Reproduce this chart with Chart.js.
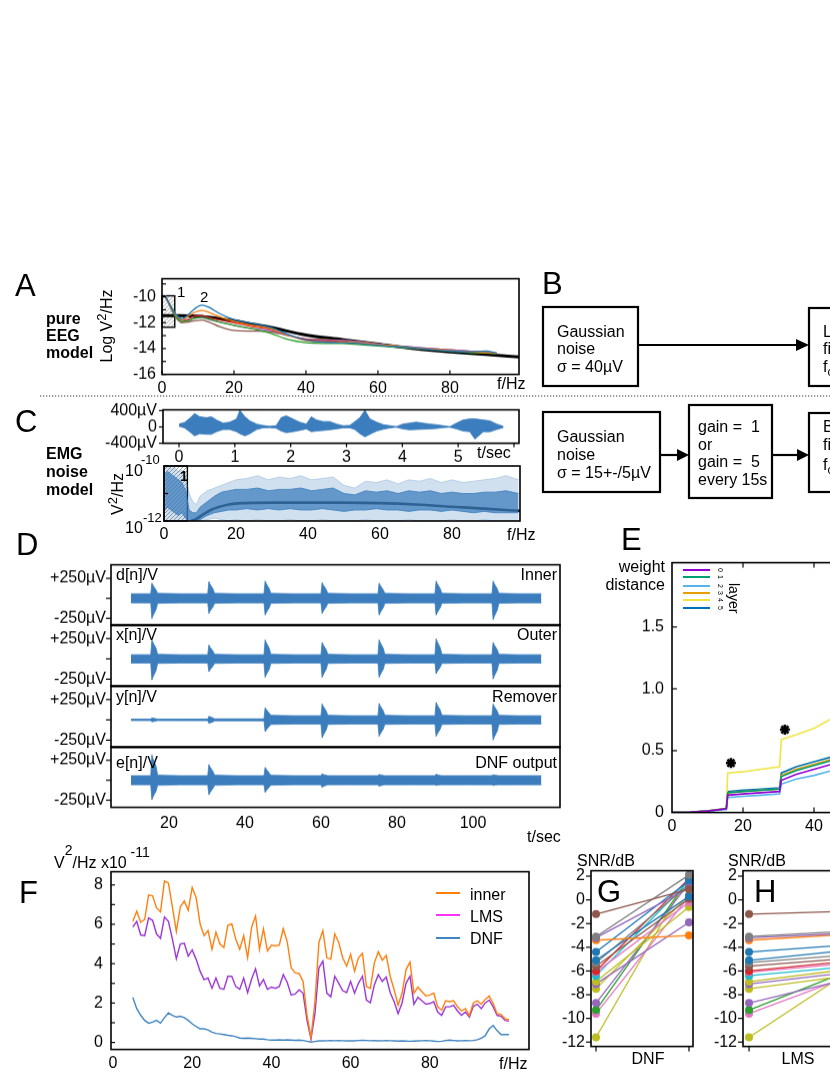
<!DOCTYPE html>
<html>
<head>
<meta charset="utf-8">
<script src="https://cdn.jsdelivr.net/npm/chart.js@4.4.1/dist/chart.umd.min.js"></script>
<style>
html, body { margin: 0; padding: 0; background: #fff; overflow: hidden; }
body { width: 830px; height: 1075px; position: relative; }
.wrap { position: absolute; left: 0; top: 0; }
#deco { position: absolute; left: 0; top: 0; pointer-events: none; }
</style>
</head>
<body>
<svg id="deco" width="830" height="1075" font-family="Liberation Sans, Arial, sans-serif" font-size="16">
  <g font-size="31">
    <text x="15" y="296">A</text>
    <text x="542" y="294">B</text>
    <text x="15" y="432">C</text>
    <text x="16" y="555">D</text>
    <text x="621" y="550">E</text>
    <text x="19" y="903">F</text>
    <text x="597" y="902">G</text>
    <text x="754" y="902">H</text>
  </g>
  <g font-weight="bold">
    <text x="46" y="324">pure</text>
    <text x="46" y="341">EEG</text>
    <text x="46" y="358">model</text>
    <text x="46" y="459">EMG</text>
    <text x="46" y="477">noise</text>
    <text x="46" y="495">model</text>
  </g>

  <!-- A -->
  <text transform="translate(112,326) rotate(-90)" text-anchor="middle">Log V<tspan dy="-6" font-size="13">2</tspan><tspan dy="6">/Hz</tspan></text>
  <text x="177" y="297" font-size="15">1</text>
  <text x="200" y="302" font-size="15">2</text>
  <text x="497" y="389">f/Hz</text>
  <line x1="40" y1="396" x2="830" y2="396" stroke="#333" stroke-width="1" stroke-dasharray="1.2 1.8"/>

  <!-- B -->
  <g fill="none" stroke="#000" stroke-width="2.2">
    <rect x="543" y="307" width="95" height="79"/>
    <rect x="809" y="308" width="40" height="78"/>
    <rect x="543" y="412" width="117" height="80"/>
    <rect x="689" y="405" width="83" height="93"/>
    <rect x="809" y="413" width="40" height="79"/>
    <line x1="638" y1="345" x2="798" y2="345"/>
    <line x1="660" y1="455" x2="679" y2="455"/>
    <line x1="772" y1="455" x2="799" y2="455"/>
  </g>
  <g fill="#000">
    <polygon points="796,339 809,345 796,351"/>
    <polygon points="677,449 689,455 677,461"/>
    <polygon points="797,449 809,455 797,461"/>
  </g>
  <text x="557" y="337">Gaussian</text>
  <text x="557" y="354">noise</text>
  <text x="557" y="372">σ = 40µV</text>
  <text x="823" y="337">L</text>
  <text x="823" y="354">fi</text>
  <text x="823" y="372">f<tspan dy="4" font-size="12">c</tspan></text>
  <text x="557" y="442">Gaussian</text>
  <text x="557" y="460">noise</text>
  <text x="557" y="478">σ = 15+-/5µV</text>
  <text x="698" y="432" xml:space="preserve">gain =  1</text>
  <text x="698" y="449.5">or</text>
  <text x="698" y="467" xml:space="preserve">gain =  5</text>
  <text x="698" y="484.5">every 15s</text>
  <text x="823" y="432">B</text>
  <text x="823" y="450">fi</text>
  <text x="823" y="470">f<tspan dy="4" font-size="12">c</tspan></text>

  <!-- C -->
  <text x="477" y="458">t/sec</text>
  <text x="125" y="476">10</text>
  <text x="141" y="464" font-size="13">-10</text>
  <text x="125" y="533">10</text>
  <text x="143" y="522" font-size="13">-12</text>
  <text transform="translate(123,494) rotate(-90)" text-anchor="middle">V<tspan dy="-6" font-size="13">2</tspan><tspan dy="6">/Hz</tspan></text>
  <text x="180" y="481" font-size="14" font-weight="bold">1</text>
  <text x="507" y="540">f/Hz</text>

  <!-- D -->
  <text x="116" y="580">d[n]/V</text>
  <text x="557" y="580" text-anchor="end">Inner</text>
  <text x="116" y="640">x[n]/V</text>
  <text x="557" y="640" text-anchor="end">Outer</text>
  <text x="116" y="702">y[n]/V</text>
  <text x="557" y="702" text-anchor="end">Remover</text>
  <text x="116" y="768">e[n]/V</text>
  <text x="557" y="768" text-anchor="end">DNF output</text>
  <text x="527" y="842">t/sec</text>

  <!-- E -->
  <text x="665" y="572" text-anchor="end">weight</text>
  <text x="665" y="590" text-anchor="end">distance</text>
  <g stroke-width="2">
    <line x1="683" y1="570" x2="710" y2="570" stroke="#9400d3"/>
    <line x1="683" y1="577" x2="710" y2="577" stroke="#009e73"/>
    <line x1="683" y1="586" x2="710" y2="586" stroke="#56b4e9"/>
    <line x1="683" y1="593" x2="710" y2="593" stroke="#e69f00"/>
    <line x1="683" y1="600" x2="710" y2="600" stroke="#f0e442"/>
    <line x1="683" y1="608" x2="710" y2="608" stroke="#0072b2"/>
  </g>
  <g font-size="7">
    <text transform="translate(718,568) rotate(90)">0</text>
    <text transform="translate(718,575) rotate(90)">1</text>
    <text transform="translate(718,584) rotate(90)">2</text>
    <text transform="translate(718,591) rotate(90)">3</text>
    <text transform="translate(718,598) rotate(90)">4</text>
    <text transform="translate(718,606) rotate(90)">5</text>
  </g>
  <text transform="translate(729,583) rotate(90)" font-size="14">layer</text>

  <!-- F -->
  <text x="54" y="868">V<tspan dy="-13" font-size="14">2</tspan><tspan dy="13">/Hz x10</tspan><tspan dy="-11" font-size="14"> -11</tspan></text>
  <g stroke-width="2">
    <line x1="436" y1="893" x2="460" y2="893" stroke="#ff7f0e"/>
    <line x1="436" y1="915" x2="460" y2="915" stroke="#ff33ff"/>
    <line x1="436" y1="938" x2="460" y2="938" stroke="#3f84c0"/>
  </g>
  <text x="470" y="900">inner</text>
  <text x="470" y="922">LMS</text>
  <text x="470" y="944">DNF</text>
  <text x="499" y="1069">f/Hz</text>

  <!-- G, H -->
  <text x="577" y="866">SNR/dB</text>
  <text x="728" y="866">SNR/dB</text>
  <text x="648" y="1064" text-anchor="middle">DNF</text>
  <text x="798" y="1064" text-anchor="middle">LMS</text>
</svg>

<script>
// ---------- A: pure EEG model ----------
const freqA = [1, 2, 3, 4, 5.5, 7, 9, 11, 13, 16, 20, 25, 30, 35, 40, 45, 50, 55, 60, 65, 70, 75, 80, 85, 90, 93];
const eegBlue   = [-10.0,-10.5,-11.0,-11.4,-11.7,-11.45,-10.95,-10.65,-10.8,-11.3,-11.75,-12.05,-12.35,-12.9,-13.35,-13.5,-13.55,-13.6,-13.75,-13.85,-13.95,-14.1,-14.2,-14.25,-14.2,-14.35];
const eegOrange = [-10.0,-10.5,-11.0,-11.45,-11.75,-11.55,-11.2,-11.05,-11.2,-11.55,-11.9,-12.2,-12.45,-12.95,-13.4,-13.5,-13.5,-13.55,-13.7,-13.8,-13.95,-14.05,-14.15,-14.25,-14.3,-14.35];
const eegRed    = [-10.05,-10.55,-11.1,-11.5,-11.85,-11.75,-11.5,-11.45,-11.6,-11.8,-12.0,-12.3,-12.5,-12.95,-13.3,-13.4,-13.45,-13.6,-13.75,-13.85,-13.95,-14.05,-14.15,-14.25,-14.3,-14.4];
const eegPurple = [-9.9,-10.5,-11.1,-11.55,-11.9,-11.85,-11.65,-11.6,-11.75,-11.95,-12.2,-12.45,-12.6,-12.95,-13.3,-13.35,-13.35,-13.5,-13.65,-13.8,-13.9,-14.0,-14.1,-14.2,-14.3,-14.35];
const eegBrown  = [-10.0,-10.6,-11.2,-11.65,-12.0,-11.95,-11.85,-11.8,-11.95,-12.3,-12.6,-12.65,-12.7,-13.0,-13.25,-13.3,-13.35,-13.45,-13.65,-13.8,-13.9,-14.0,-14.1,-14.2,-14.3,-14.4];
const eegGreen  = [-10.0,-10.55,-11.1,-11.55,-11.9,-11.85,-11.65,-11.6,-11.7,-11.95,-12.2,-12.45,-12.8,-13.3,-13.55,-13.6,-13.6,-13.7,-13.8,-13.9,-14.0,-14.1,-14.2,-14.3,-14.35,-14.4];
const modelFreqA = [0, 5, 10, 15, 20, 25, 30, 40, 50, 60, 70, 80, 90, 99.2];
const modelA     = [-11.45,-11.45,-11.5,-11.65,-11.85,-12.1,-12.35,-12.95,-13.3,-13.65,-14.0,-14.25,-14.45,-14.65];

// ---------- C: EMG noise, time trace (envelope, uV) ----------
const emgTime = [0,0.1,0.19,0.28,0.37,0.49,0.58,0.67,0.79,0.91,1.03,1.09,1.18,1.27,1.39,1.5,1.62,1.74,1.83,1.92,2.04,2.16,2.28,2.37,2.46,2.58,2.7,2.82,2.94,3.06,3.15,3.24,3.33,3.42,3.54,3.66,3.78,3.89,4.01,4.13,4.25,4.37,4.49,4.61,4.73,4.85,4.97,5.09,5.21,5.3,5.45,5.57,5.69,5.81];
const emgHi = [71,110,212,329,251,227,251,172,94,118,196,408,251,149,71,39,16,31,227,274,196,118,71,251,172,133,133,71,31,39,133,227,408,196,118,55,31,8,71,94,118,94,71,55,31,8,94,172,196,196,172,149,71,16];
const emgLo = [16,-24,-118,-220,-165,-180,-180,-118,-63,-63,-118,-165,-220,-165,-63,-24,-16,-31,-102,-141,-118,-86,-47,-118,-102,-86,-71,-47,-24,-24,-63,-165,-243,-180,-102,-55,-24,-8,-47,-71,-63,-55,-47,-39,-16,-8,-47,-102,-118,-298,-118,-118,-63,-16];

// ---------- C: EMG spectrum (log10 V^2/Hz) ----------
const emgFreq = [0.3,1,2,3,4,5,6,7,8,9,10,12,14,16,18,20,23,26,29,32,35,38,41,44,47,50,53,56,59,62,65,68,71,74,77,80,83,86,89,92,95,98.5];
const specOuterHi = [-10.0,-10.0,-10.1,-10.05,-10.2,-10.15,-10.4,-11.0,-11.3,-11.4,-11.1,-10.9,-10.8,-10.7,-10.6,-10.5,-10.45,-10.35,-10.5,-10.4,-10.45,-10.35,-10.5,-10.45,-10.4,-10.7,-10.8,-10.55,-10.6,-10.5,-10.65,-10.5,-10.55,-10.45,-10.6,-10.5,-10.6,-10.55,-10.5,-10.45,-10.35,-10.5];
const specOuterLo = [-12,-12,-12,-12,-12,-12,-12,-12,-12,-12,-12,-11.95,-11.9,-11.95,-12,-11.95,-12,-11.95,-12,-12,-11.95,-12,-12,-11.95,-12,-12,-12,-11.95,-12,-12,-12,-11.95,-12,-12,-12,-11.95,-12,-12,-11.95,-12,-12,-12];
const specCoreHi = [-10.3,-10.2,-10.3,-10.4,-10.5,-10.6,-10.9,-11.6,-11.7,-11.7,-11.5,-11.3,-11.1,-10.95,-10.9,-10.85,-10.85,-10.8,-10.9,-10.85,-10.85,-10.8,-10.9,-10.85,-10.8,-11.0,-11.05,-10.9,-10.95,-10.9,-11.0,-10.9,-10.95,-10.9,-11.0,-10.95,-11.0,-11.0,-10.95,-10.95,-10.9,-11.0];
const specCoreLo = [-11.6,-11.5,-11.6,-11.7,-11.8,-11.7,-11.9,-12,-12,-12,-11.95,-11.8,-11.7,-11.65,-11.6,-11.6,-11.55,-11.6,-11.55,-11.6,-11.55,-11.6,-11.6,-11.55,-11.6,-11.65,-11.6,-11.6,-11.55,-11.6,-11.6,-11.65,-11.6,-11.6,-11.65,-11.6,-11.65,-11.7,-11.65,-11.7,-11.7,-11.7];
const emgModelFreq = [7.5,9,11,13,15,18,22,30,40,50,60,70,80,90,98.9];
const emgModel = [-12,-11.92,-11.75,-11.6,-11.5,-11.4,-11.35,-11.33,-11.33,-11.33,-11.35,-11.4,-11.48,-11.56,-11.63];

// ---------- D: signals (envelope, uV) ----------
const dTime = [10,
  13,15.2,15.5,15.8,16.2,16.6,17.0,
  23,30.2,30.5,30.8,31.2,31.6,32.0,
  38,45.0,45.3,45.6,46.0,46.4,46.8,
  53,60.0,60.3,60.6,61.0,61.4,61.8,
  68,75.0,75.3,75.6,76.0,76.4,76.8,
  83,90.0,90.3,90.6,91.0,91.4,91.8,
  98,105.0,105.3,105.6,106.0,106.4,106.8,
  112,118];
const innerHi = [57, 57,57,190,162,133,105,62, 57,57,210,179,147,116,62, 57,57,216,184,151,119,62, 57,57,197,167,138,108,62, 57,57,190,162,133,105,62, 57,57,216,184,151,119,62, 57,57,216,184,151,119,62, 57,57];
const innerLo = [-57, -57,-57,-254,-216,-178,-140,-62, -57,-57,-190,-162,-133,-105,-62, -57,-57,-210,-179,-147,-116,-62, -57,-57,-190,-162,-133,-105,-62, -57,-57,-210,-179,-147,-116,-62, -57,-57,-210,-179,-147,-116,-62, -57,-57,-267,-227,-187,-147,-62, -57,-57];
const outerHi = [51, 51,51,235,200,165,129,56, 51,51,171,145,120,94,56, 51,51,235,200,165,129,56, 51,51,203,173,142,112,56, 51,51,235,200,165,129,56, 51,51,248,211,174,136,56, 51,51,203,173,142,112,56, 51,51];
const outerLo = [-51, -51,-51,-260,-221,-182,-143,-56, -51,-51,-159,-135,-111,-87,-56, -51,-51,-229,-195,-160,-126,-56, -51,-51,-229,-195,-160,-126,-56, -51,-51,-229,-195,-160,-126,-56, -51,-51,-184,-156,-129,-101,-56, -51,-51,-248,-211,-174,-136,-56, -51,-51];
const removerHi = [9, 9,9,25,21,18,14,9, 10,10,44,37,31,24,13, 13,13,150,128,105,83,56, 51,51,197,167,138,108,56, 51,51,203,173,142,112,56, 51,51,216,184,151,119,56, 51,51,197,167,138,108,56, 51,51];
const removerLo = [-9, -9,-9,-25,-21,-18,-14,-9, -10,-10,-44,-37,-31,-24,-13, -13,-13,-146,-124,-102,-80,-56, -51,-51,-222,-189,-155,-122,-56, -51,-51,-203,-173,-142,-112,-56, -51,-51,-203,-173,-142,-112,-56, -51,-51,-248,-211,-174,-136,-56, -51,-51];
const dnfHi = [57, 57,57,318,270,223,175,64, 57,57,196,167,137,108,64, 57,57,163,139,114,90,62, 57,57,81,72,66,62,57, 57,57,74,68,64,60,57, 57,57,76,69,64,60,57, 57,57,69,65,62,59,57, 57,57];
const dnfLo = [-57, -57,-57,-245,-208,-172,-135,-64, -57,-57,-182,-155,-127,-100,-64, -57,-57,-154,-131,-108,-85,-62, -57,-57,-90,-79,-70,-64,-57, -57,-57,-77,-70,-65,-61,-57, -57,-57,-66,-62,-60,-58,-57, -57,-57,-66,-62,-60,-58,-57, -57,-57];

// ---------- E: weight distance per layer ----------
const eTime = [0, 5, 10, 15.3, 15.7, 20, 25, 30.3, 30.8, 35, 40, 45];
const layer0 = [0,0.003,0.012,0.03,0.14,0.15,0.16,0.17,0.26,0.31,0.35,0.39];
const layer1 = [0,0.003,0.012,0.03,0.16,0.17,0.18,0.19,0.29,0.34,0.38,0.42];
const layer2 = [0,0.002,0.01,0.025,0.12,0.13,0.14,0.15,0.23,0.27,0.30,0.34];
const layer3 = [0,0.003,0.012,0.03,0.16,0.17,0.18,0.19,0.30,0.35,0.39,0.43];
const layer4 = [0,0.004,0.015,0.035,0.32,0.33,0.35,0.37,0.59,0.63,0.68,0.76];
const layer5 = [0,0.003,0.012,0.03,0.17,0.18,0.19,0.20,0.32,0.37,0.41,0.45];
const starTime = [16.6, 31.8];
const starVal = [0.40, 0.67];

// ---------- F: power spectra (x1e-11 V^2/Hz) ----------
const fFreq = [5,6,7,8,9,10,11,12,13,14,15,16,17,18,19,20,21,22,23,24,25,26,27,28,29,30,31,32,33,34,35,36,37,38,39,40,41,42,43,44,45,46,47,48,49,50,51,52,53,54,55,56,57,58,59,60,61,62,63,64,65,66,67,68,69,70,71,72,73,74,75,76,77,78,79,80,81,82,83,84,85,86,87,88,89,90,91,92,93,94,95,96,97,98,99,100];
const psdInner = [6.15,6.66,6.1,6.25,7.49,7.45,6.83,6.63,8.2,8.09, 6.88,5.63,6.88,7.18,6.71,7.87,7.35,6.02,5.42,5.68, 4.73,5.6,5.0,4.82,5.94,6.02,5.25,4.73,5.42,4.3, 5.85,6.42,4.73,5.77,4.65,4.94,4.9,4.94,5.77,5.11, 3.79,3.53,3.5,3.1,1.38,0.26,2.07,5.08,5.68,4.3, 4.22,5.51,5.08,4.3,3.87,4.48,3.62,4.3,4.53,2.84, 2.75,4.04,4.6,4.18,4.42,3.36,2.67,1.89,2.5,3.7, 4.08,2.5,2.81,2.58,2.36,2.41,2.5,1.81,1.64,2.12, 2.07,2.12,1.81,1.6,1.72,1.38,2.01,2.12,1.94,2.19, 2.36,1.98,1.46,1.43,1.2,1.15];
const psdLms = [5.86,6.15,5.46,5.42,6.32,6.2,5.51,5.29,6.37,6.15, 5.25,4.25,5.0,5.04,4.39,4.7,4.22,3.62,3.19,3.27, 2.75,3.27,2.75,2.7,3.36,3.36,2.84,2.7,3.27,2.53, 3.22,3.74,2.88,3.19,2.7,2.81,2.75,2.84,3.44,3.05, 2.41,2.46,2.67,2.5,1.12,0.17,1.46,3.79,4.13,2.5, 2.32,3.36,3.01,2.63,2.53,3.1,2.5,3.01,3.36,2.15, 2.01,2.93,3.44,3.1,3.32,2.53,2.07,1.46,2.01,3.01, 3.36,1.94,2.29,2.12,1.94,1.98,2.07,1.55,1.38,1.81, 1.81,1.89,1.6,1.38,1.55,1.29,1.84,1.94,1.72,2.01, 2.15,1.81,1.38,1.33,1.12,1.08];
const psdDnf = [2.29,1.72,1.38,1.12,0.98,1.03,1.12,0.98,1.26,1.5, 1.38,1.29,1.33,1.26,1.12,0.95,0.81,0.69,0.69,0.64, 0.52,0.46,0.43,0.4,0.36,0.34,0.29,0.22,0.21,0.22, 0.21,0.19,0.17,0.17,0.14,0.12,0.12,0.13,0.12,0.13, 0.12,0.11,0.12,0.1,0.06,0.02,0.05,0.08,0.08,0.09, 0.1,0.09,0.1,0.09,0.08,0.09,0.08,0.1,0.11,0.1, 0.09,0.1,0.08,0.09,0.1,0.09,0.08,0.07,0.08,0.07, 0.06,0.07,0.08,0.09,0.1,0.09,0.07,0.05,0.06,0.1, 0.12,0.1,0.08,0.09,0.1,0.09,0.1,0.14,0.22,0.34, 0.69,0.86,0.6,0.4,0.4,0.4];

// ---------- G, H: SNR per subject ----------
const snrPre = [-1.2,-3.1,-3.2,-3.4,-4.4,-5.1,-5.3,-5.6,-6.0,-6.1,-6.4,-6.9,-7.1,-7.5,-8.7,-9.3,-9.6,-11.6];
const snrDnf = [0.9,2.1,1.0,-3.0,1.6,0.3,1.3,0.1,1.8,-0.2,1.6,-0.6,-1.9,0.4,1.4,1.8,0.3,2.0];
const snrLms = [-0.97,-2.67,-2.85,-2.94,-3.83,-4.3,-4.69,-4.98,-5.24,-5.41,-5.68,-5.92,-6.18,-6.47,-6.8,-6.2,-6.67,-6.43];

// colours
const tab = ['#1f77b4','#ff7f0e','#2ca02c','#d62728','#9467bd','#8c564b','#e377c2','#7f7f7f','#bcbd22','#17becf'];
const subjColors = ['#8c564b','#7f7f7f','#9467bd','#ff7f0e','#1f77b4','#1f77b4','#7f7f7f','#8c564b','#d62728','#e377c2','#17becf','#bcbd22','#9467bd','#bcbd22','#9467bd','#2ca02c','#e377c2','#bcbd22'];
const layerColors = ['#9400d3','#009e73','#56b4e9','#e69f00','#f0e442','#0072b2'];
const sigBlue = '#3b7dbd';

Chart.defaults.font.family = '"Liberation Sans", Arial, sans-serif';
Chart.defaults.font.size = 16;
Chart.defaults.color = '#000';

// frame + ticks drawn on the plot box
Chart.register({
    id: 'frame',
    afterDraw(chart, args, o) {
        if (!o || !o.on) return;
        const ctx = chart.ctx, a = chart.chartArea;
        ctx.save();
        ctx.strokeStyle = '#000';
        ctx.lineWidth = o.lw || 1.6;
        ctx.strokeRect(a.left, a.top, a.right - a.left, a.bottom - a.top);
        ctx.lineWidth = 1.2;
        (o.ticks || []).forEach(t => {
            const sc = chart.scales[t.axis];
            t.values.forEach(v => {
                const p = sc.getPixelForValue(v);
                ctx.beginPath();
                if (t.side === 'left') { ctx.moveTo(a.left, p); ctx.lineTo(a.left + t.len, p); }
                if (t.side === 'bottom') { ctx.moveTo(p, a.bottom); ctx.lineTo(p, a.bottom - t.len); }
                if (t.side === 'top') { ctx.moveTo(p, a.top); ctx.lineTo(p, a.top + t.len); }
                ctx.stroke();
            });
        });
        ctx.restore();
    }
});

// hatched band marking the excluded low frequencies
Chart.register({
    id: 'hatch',
    beforeDatasetsDraw(chart, args, o) {
        if (!o || o.x0 === undefined) return;
        const ctx = chart.ctx, xs = chart.scales.x, ys = chart.scales.y;
        const L = xs.getPixelForValue(o.x0), R = xs.getPixelForValue(o.x1);
        const T = ys.getPixelForValue(o.y1), B = ys.getPixelForValue(o.y0);
        ctx.save();
        ctx.beginPath();
        ctx.rect(L, T, R - L, B - T);
        ctx.clip();
        ctx.strokeStyle = '#777';
        ctx.lineWidth = 0.7;
        for (let k = -(B - T); k < (R - L) + (B - T); k += 4) {
            ctx.beginPath();
            ctx.moveTo(L + k, B);
            ctx.lineTo(L + k + (B - T), T);
            ctx.stroke();
        }
        ctx.restore();
        ctx.save();
        ctx.strokeStyle = '#000';
        ctx.lineWidth = 1.4;
        ctx.strokeRect(L, T, R - L, B - T);
        ctx.restore();
    }
});

const pts = (xs, ys) => xs.map((x, i) => ({x: x, y: ys[i]}));
const pts10 = (xs, ys) => xs.map((x, i) => ({x: x, y: Math.pow(10, ys[i])}));

// an axis with no grid; labelled ticks are set explicitly
function axis(min, max, o) {
    o = o || {};
    const s = {
        type: o.type || 'linear', min: min, max: max,
        grid: {display: false, drawTicks: false},
        border: {display: false},
        ticks: {display: !!o.values, autoSkip: false, maxRotation: 0, padding: o.pad || 4,
                callback: o.label || (v => v)},
        afterFit: o.size ? (sc => { if (sc.isHorizontal()) sc.height = o.size; else sc.width = o.size; }) : undefined
    };
    if (o.values) s.afterBuildTicks = sc => { sc.ticks = o.values.map(v => ({value: v})); };
    return s;
}

function opts(scales, plugins) {
    return {
        responsive: false, maintainAspectRatio: false, animation: false, events: [],
        layout: {padding: {top: 12, right: 30, bottom: 6, left: 4}},
        elements: {point: {radius: 0}, line: {borderWidth: 1.3}},
        plugins: Object.assign({legend: {display: false}, tooltip: {enabled: false}}, plugins || {}),
        scales: scales
    };
}

// put a chart so that its plot area lands exactly on box
function place(box, config) {
    const w = document.createElement('div');
    w.className = 'wrap';
    const c = document.createElement('canvas');
    w.appendChild(c);
    document.body.insertBefore(w, document.getElementById('deco'));
    let W = box.r - box.l + 100, H = box.b - box.t + 50;
    c.width = W; c.height = H;
    w.style.width = W + 'px'; w.style.height = H + 'px';
    const ch = new Chart(c, config);
    for (let k = 0; k < 4; k++) {
        const a = ch.chartArea;
        const dw = (box.r - box.l) - (a.right - a.left);
        const dh = (box.b - box.t) - (a.bottom - a.top);
        if (Math.abs(dw) < 0.3 && Math.abs(dh) < 0.3) break;
        W += dw; H += dh;
        w.style.width = W + 'px'; w.style.height = H + 'px';
        ch.resize(W, H);
    }
    const a = ch.chartArea;
    w.style.left = (box.l - a.left) + 'px';
    w.style.top = (box.t - a.top) + 'px';
    return ch;
}

function band(xs, hi, lo, color, bg, bw) {
    return [
        {data: pts(xs, hi), borderColor: color, backgroundColor: bg, borderWidth: bw, fill: '+1', tension: 0},
        {data: pts(xs, lo), borderColor: color, borderWidth: bw, fill: false, tension: 0}
    ];
}

// ---- A ----
const eegCurves = [[eegBlue, tab[0]], [eegOrange, tab[1]], [eegGreen, tab[2]], [eegRed, tab[3]], [eegPurple, tab[4]], [eegBrown, tab[5]]];
place({l: 162, r: 519, t: 279, b: 374}, {
    type: 'line',
    data: {datasets: eegCurves.map(c => ({data: pts(freqA, c[0]), borderColor: c[1], borderWidth: 1.3, cubicInterpolationMode: 'monotone'}))
        .concat([{data: pts(modelFreqA, modelA), borderColor: '#000', borderWidth: 3, cubicInterpolationMode: 'monotone'}])},
    options: opts({
        x: axis(0, 99.2, {size: 26, pad: 0, values: [0, 20, 40, 60, 80]}),
        y: axis(-16, -8.6, {size: 50, pad: 6, values: [-16, -14, -12, -10]})
    }, {
        frame: {on: true, ticks: [{axis: 'y', side: 'left', values: [-16,-15,-14,-13,-12,-11,-10,-9], len: 4},
                                  {axis: 'x', side: 'bottom', values: [0,20,40,60,80], len: 4}]},
        hatch: {x0: 0, x1: 3.55, y0: -12.35, y1: -9.92}
    })
});

// ---- C top: EMG trace ----
place({l: 163, r: 519, t: 410, b: 443}, {
    type: 'line',
    data: {datasets: band(emgTime, emgHi, emgLo, sigBlue, sigBlue, 0.8)},
    options: opts({
        x: axis(-0.287, 6.09, {size: 24, pad: 4, values: [0, 1, 2, 3, 4, 5]}),
        y: axis(-400, 420, {size: 70, pad: 6, values: [-400, 0, 400],
                            label: v => v === 0 ? '0' : (v > 0 ? '400µV' : '-400µV')})
    }, {
        frame: {on: true, ticks: [{axis: 'y', side: 'left', values: [-400, 0, 400], len: -4},
                                  {axis: 'x', side: 'bottom', values: [0,1,2,3,4,5,6], len: -4}]}
    })
});

// ---- C bottom: EMG spectrum ----
place({l: 164, r: 520, t: 466, b: 521}, {
    type: 'line',
    data: {datasets: [
        {data: pts10(emgFreq, specOuterHi), borderColor: 'rgba(59,125,189,0.45)', backgroundColor: 'rgba(59,125,189,0.24)', borderWidth: 0.6, fill: '+1'},
        {data: pts10(emgFreq, specOuterLo), borderColor: 'rgba(59,125,189,0.45)', borderWidth: 0.6, fill: false},
        {data: pts10(emgFreq, specCoreHi), borderColor: sigBlue, backgroundColor: 'rgba(59,125,189,0.72)', borderWidth: 0.8, fill: '+1'},
        {data: pts10(emgFreq, specCoreLo), borderColor: sigBlue, borderWidth: 0.8, fill: false},
        {data: pts10(emgModelFreq, emgModel), borderColor: '#000', borderWidth: 2.6, cubicInterpolationMode: 'monotone'}
    ]},
    options: opts({
        x: axis(0, 98.9, {size: 24, pad: 4, values: [0, 20, 40, 60, 80]}),
        y: axis(1e-12, 1e-10, {type: 'logarithmic', size: 50})
    }, {
        frame: {on: true, ticks: [{axis: 'y', side: 'left', values: [1e-12, 1e-11, 1e-10], len: 4}]},
        hatch: {x0: 0, x1: 6.5, y0: 1e-12, y1: 1e-10}
    })
});

// ---- D: four stacked signals ----
const dRows = [[565, 625, innerHi, innerLo], [625, 686, outerHi, outerLo], [686, 747, removerHi, removerLo], [747, 807, dnfHi, dnfLo]];
dRows.forEach((row, i) => {
    const last = i === dRows.length - 1;
    place({l: 111, r: 560, t: row[0], b: row[1]}, {
        type: 'line',
        data: {datasets: band(dTime, row[2], row[3], sigBlue, sigBlue, 0.8)},
        options: opts({
            x: axis(4.74, 122.9, last ? {size: 26, pad: 6, values: [20, 40, 60, 80, 100]} : {size: 2}),
            y: axis(-340, 420, {size: 80, pad: 5, values: [-250, 250], label: v => v > 0 ? '+250µV' : '-250µV'})
        }, {
            frame: {on: true, ticks: [{axis: 'y', side: 'left', values: [-250, 0, 250], len: -5}]}
        })
    });
});

// ---- E: weight distance ----
const layers = [layer0, layer1, layer2, layer3, layer4, layer5];
place({l: 672, r: 832, t: 563, b: 812}, {
    type: 'line',
    data: {datasets: layers.map((l, i) => ({data: pts(eTime, l), borderColor: layerColors[i], borderWidth: 1.6}))
        .concat([{data: pts(starTime, starVal), showLine: false, pointStyle: 'star', pointRadius: 5, borderColor: '#000', borderWidth: 2.6}])},
    options: opts({
        x: axis(0, 45.07, {size: 26, pad: 4, values: [0, 20, 40]}),
        y: axis(0, 2.02, {size: 50, pad: 8, values: [0, 0.5, 1, 1.5], label: v => v === 0 ? '0' : v.toFixed(1)})
    }, {
        frame: {on: true, ticks: [{axis: 'y', side: 'left', values: [0.5, 1, 1.5], len: 5},
                                  {axis: 'x', side: 'top', values: [20, 40], len: 5},
                                  {axis: 'x', side: 'bottom', values: [20, 40], len: 5}]}
    })
});

// ---- F: spectra ----
place({l: 111, r: 529, t: 872, b: 1049}, {
    type: 'line',
    data: {datasets: [
        {data: pts(fFreq, psdInner), borderColor: '#ff7f0e', borderWidth: 1.4},
        {data: pts(fFreq, psdLms), borderColor: '#9b34d6', borderWidth: 1.4},
        {data: pts(fFreq, psdDnf), borderColor: '#3f84c0', borderWidth: 1.4}
    ]},
    options: opts({
        x: axis(-0.5, 105.05, {size: 26, pad: 4, values: [0, 20, 40, 60, 80]}),
        y: axis(-0.357, 8.67, {size: 50, pad: 8, values: [0, 2, 4, 6, 8]})
    }, {
        frame: {on: true, ticks: [{axis: 'y', side: 'left', values: [0,1,2,3,4,5,6,7,8], len: 4}]}
    })
});

// ---- G, H: SNR before / after ----
function snrChart(box, xmin, post) {
    place(box, {
        type: 'line',
        data: {datasets: snrPre.map((p, i) => ({
            data: [{x: 0, y: p}, {x: 1, y: post[i]}],
            borderColor: subjColors[i], backgroundColor: subjColors[i],
            borderWidth: 1.3, pointRadius: 4, pointBorderWidth: 0, clip: false
        }))},
        options: opts({
            x: axis(xmin, 1.043, {size: 24}),
            y: axis(-12.37, 2.46, {size: 40, pad: 6, values: [-12, -10, -8, -6, -4, -2, 0, 2]})
        }, {
            frame: {on: true, ticks: [{axis: 'y', side: 'left', values: [-12,-10,-8,-6,-4,-2,0,2], len: -5},
                                      {axis: 'x', side: 'bottom', values: [0, 1], len: -5}]}
        })
    });
}
snrChart({l: 591, r: 693, t: 871, b: 1046}, -0.054, snrDnf);
snrChart({l: 743, r: 846, t: 871, b: 1046}, -0.065, snrLms);
</script>
</body>
</html>
